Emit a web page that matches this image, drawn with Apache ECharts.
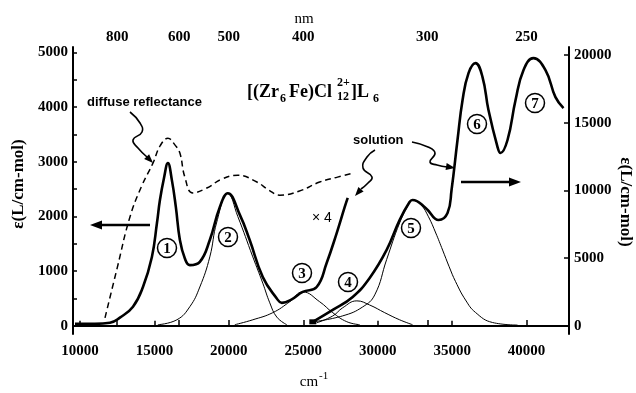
<!DOCTYPE html>
<html>
<head>
<meta charset="utf-8">
<script src="https://cdn.jsdelivr.net/npm/echarts@6/dist/echarts.min.js"></script>
<style>
  html, body { margin: 0; padding: 0; background: #fff; }
  #itemChar { width: 636px; height: 393px; }
</style>
</head>
<body>
<div id="itemChar"></div>
<script>
  // axis ticks
  var cmTicks = [10000, 15000, 20000, 25000, 30000, 35000, 40000]
  var nmTicks = [800, 600, 500, 400, 300, 250]
  var leftTicks = [0, 1000, 2000, 3000, 4000, 5000]
  var leftTickMarks = [0, 500, 1000, 1500, 2000, 2500, 3000, 3500, 4000, 4500, 5000]
  var rightTicks = [0, 5000, 10000, 15000, 20000]

  // diffuse reflectance, dashed (left scale)
  var reflectance = [[11680, 146], [12500, 1060], [13355, 1990], [14150, 2560], [14900, 2975], [15400, 3300],
    [15905, 3430], [16400, 3300], [16710, 3160], [17045, 2720], [17580, 2430], [18520, 2520], [19500, 2680],
    [20600, 2755], [21880, 2630], [22700, 2480], [23420, 2390], [24700, 2460], [26100, 2630], [27300, 2720],
    [28320, 2790]]

  // solution spectrum, low energy part (left scale)
  var solutionLow = [[9665, 35], [11000, 35], [12010, 55], [12680, 150], [13560, 350], [14230, 710],
    [14830, 1260], [15170, 1880], [15370, 2300], [15640, 2700], [15905, 2975], [16175, 2660], [16440, 2170],
    [16710, 1570], [17045, 1230], [17380, 1110], [18050, 1170], [18720, 1570], [19390, 2170], [19930, 2425],
    [20740, 2030], [21400, 1570], [22280, 890], [23220, 500], [23555, 420], [24200, 480], [24965, 620],
    [25900, 710], [26570, 1150], [27250, 1700], [27780, 2170], [27985, 2340]]

  // solution spectrum, high energy part (right scale)
  var solutionHigh = [[25640, 300], [26980, 1180], [28320, 2140], [29460, 3540], [30600, 5610], [31470, 7820],
    [32140, 9150], [32340, 9300], [33220, 8710], [34090, 7820], [34690, 8340], [34960, 10040], [35360, 13730],
    [35700, 16680], [36100, 18670], [36570, 19410], [37040, 18380], [37440, 15940], [38050, 13210],
    [38250, 12770], [38720, 13730], [39260, 16680], [39790, 18890], [40460, 19780], [41270, 18890],
    [41940, 16900], [42480, 16090]]

  // gaussian components
  var band2 = [[15230, 20], [16510, 110], [17380, 350], [18050, 710], [18720, 1260], [19190, 1900], [19930, 2425],
    [20600, 2000], [21610, 1260], [22280, 780], [22750, 420], [23220, 160], [23890, 20]]
  var band3 = [[20400, 20], [21610, 110], [22950, 240], [24090, 440], [24960, 620], [26100, 440], [26980, 240],
    [27920, 75], [28790, 20]]
  var band4 = [[25900, 55], [26980, 180], [27650, 330], [28600, 456], [29460, 380], [30470, 240], [31470, 110],
    [32340, 20]]
  var band5 = [[25640, 295], [27650, 740], [28990, 1400], [29800, 2290], [30600, 4900], [31470, 7600],
    [32140, 9100], [32340, 9300], [32900, 8950], [33410, 8060], [33900, 6860], [34360, 5600], [34800, 4370],
    [35230, 3270], [35900, 1910], [36570, 990], [37710, 250], [39390, 60]]

  // circled band numbers (pixel positions)
  var bandLabels = [['1', 167, 248], ['2', 228, 237], ['3', 302, 273], ['4', 348, 282], ['5', 411, 228],
    ['6', 477, 124], ['7', 535, 103]]

  var serif = '"Liberation Serif", serif'
  var sans = '"Liberation Sans", sans-serif'

  function lineSeries(data, yIndex, width, type) {
    return {
      type: 'line',
      yAxisIndex: yIndex,
      data: data,
      symbol: 'none',
      smooth: 0.45,
      silent: true,
      lineStyle: { color: '#000', width: width, type: type || 'solid' }
    }
  }

  function arrowHead(tipX, tipY, fromX, fromY, len, half) {
    var dx = tipX - fromX, dy = tipY - fromY
    var d = Math.sqrt(dx * dx + dy * dy)
    var ux = dx / d, uy = dy / d
    var bx = tipX - ux * len, by = tipY - uy * len
    return {
      type: 'polygon', silent: true,
      shape: { points: [[tipX, tipY], [bx - uy * half, by + ux * half], [bx + uy * half, by - ux * half]] },
      style: { fill: '#000' }
    }
  }

  function wiggle(points) {
    return {
      type: 'polyline', silent: true,
      shape: { points: points, smooth: 0.5 },
      style: { stroke: '#000', lineWidth: 1.6, fill: null }
    }
  }

  function text(str, x, y, font, align) {
    return {
      type: 'text', silent: true,
      style: { text: str, x: x, y: y, font: font, fill: '#000', align: align || 'left', verticalAlign: 'middle' }
    }
  }

  function rotatedText(str, x, y, angle) {
    return {
      type: 'text', silent: true, x: x, y: y, rotation: angle,
      style: { text: str, font: 'bold 17px ' + serif, fill: '#000', align: 'center', verticalAlign: 'middle' }
    }
  }

  var graphics = [
    text('nm', 304, 19, '15px ' + serif, 'center'),
    text('cm', 309, 382, '15px ' + serif, 'center'),
    text('-1', 319, 376, '11px ' + serif),
    rotatedText('ε(L/cm-mol)', 19, 184, Math.PI / 2),
    rotatedText('ε(L/cm-mol)', 625, 202, -Math.PI / 2),
    // formula
    text('[(Zr', 247, 92, 'bold 18px ' + serif),
    text('6', 280, 99, 'bold 12px ' + serif),
    text('Fe)Cl', 289, 92, 'bold 18px ' + serif),
    text('2+', 337, 83, 'bold 12px ' + serif),
    text('12', 337, 97, 'bold 12px ' + serif),
    text(']L', 351, 92, 'bold 18px ' + serif),
    text('6', 373, 99, 'bold 12px ' + serif),
    text('diffuse reflectance', 87, 102, 'bold 13px ' + sans),
    text('solution', 353, 140, 'bold 13px ' + sans),
    text('× 4', 312, 218, '14px ' + sans),
    // wiggly pointers
    wiggle([[130, 112], [140, 123], [142, 132], [133, 140], [138, 148], [147, 157]]),
    arrowHead(153, 163, 145, 155, 9, 3.5),
    wiggle([[412, 142], [428, 147], [435, 153], [430, 162], [437, 165], [447, 167]]),
    arrowHead(455, 168, 443, 166, 9, 3.5),
    wiggle([[375, 150], [367, 157], [363, 168], [372, 177], [368, 183], [361, 189]]),
    arrowHead(355, 196, 363, 187, 9, 3.5),
    // direction arrows
    { type: 'line', silent: true, shape: { x1: 150, y1: 225, x2: 100, y2: 225 }, style: { stroke: '#000', lineWidth: 2.5 } },
    arrowHead(90, 225, 100, 225, 12, 4.5),
    { type: 'line', silent: true, shape: { x1: 461, y1: 182, x2: 510, y2: 182 }, style: { stroke: '#000', lineWidth: 2.5 } },
    arrowHead(521, 182, 510, 182, 12, 4.5)
  ]

  for (var i = 0; i < bandLabels.length; i++) {
    var b = bandLabels[i]
    graphics.push({ type: 'circle', silent: true, shape: { cx: b[1], cy: b[2], r: 9.5 },
      style: { fill: '#fff', stroke: '#000', lineWidth: 1.5 } })
    graphics.push(text(b[0], b[1], b[2] + 1, 'bold 15px ' + serif, 'center'))
  }

  var axisLine = { show: true, lineStyle: { color: '#000', width: 2 } }
  var labelStyle = { color: '#000', fontFamily: serif, fontWeight: 'bold', fontSize: 15,
    formatter: function (v) { return String(v) } }
  var nmPos = nmTicks.map(function (n) { return 1e7 / n })

  // small square marker where the high-energy trace starts
  var highSeries = lineSeries(solutionHigh, 1, 2.6)
  highSeries.data = solutionHigh.map(function (p, k) {
    return k === 0 ? { value: p, symbol: 'rect', symbolSize: [7, 5], itemStyle: { color: '#000' } } : p
  })

  var option = {
    animation: false,
    backgroundColor: '#fff',
    grid: { left: 73, right: 67, top: 47, bottom: 59 },
    xAxis: [
      {
        type: 'value', min: 9530, max: 42850, position: 'bottom',
        axisLine: axisLine, splitLine: { show: false },
        axisTick: { inside: true, length: 5, lineStyle: { color: '#000', width: 1.5 }, customValues: cmTicks },
        axisLabel: Object.assign({}, labelStyle, { margin: 10, customValues: cmTicks })
      },
      {
        type: 'value', min: 9530, max: 42850, position: 'top',
        axisLine: axisLine, splitLine: { show: false },
        axisTick: { inside: false, length: 6, lineStyle: { color: '#000', width: 1.5 }, customValues: nmPos },
        axisLabel: Object.assign({}, labelStyle, {
          margin: 2,
          customValues: nmPos,
          formatter: function (v) { return String(Math.round(1e7 / v)) }
        })
      }
    ],
    yAxis: [
      {
        type: 'value', min: -150, max: 5100, position: 'left',
        axisLine: axisLine, splitLine: { show: false },
        axisTick: { inside: true, length: 4, lineStyle: { color: '#000', width: 1.5 }, customValues: leftTickMarks },
        axisLabel: Object.assign({}, labelStyle, { margin: 5, customValues: leftTicks })
      },
      {
        type: 'value', min: -600, max: 20600, position: 'right',
        axisLine: axisLine, splitLine: { show: false },
        axisTick: { inside: true, length: 5, lineStyle: { color: '#000', width: 1.5 }, customValues: rightTicks },
        axisLabel: Object.assign({}, labelStyle, { margin: 5, customValues: rightTicks })
      }
    ],
    series: [
      lineSeries(reflectance, 0, 1.5, [6, 4]),
      lineSeries(band2, 0, 1),
      lineSeries(band3, 0, 1),
      lineSeries(band4, 0, 1),
      lineSeries(band5, 1, 1),
      lineSeries(solutionLow, 0, 2.6),
      highSeries
    ],
    graphic: graphics
  }

  var mychar = echarts.init(document.getElementById('itemChar'))
  mychar.setOption(option)
</script>
</body>
</html>
